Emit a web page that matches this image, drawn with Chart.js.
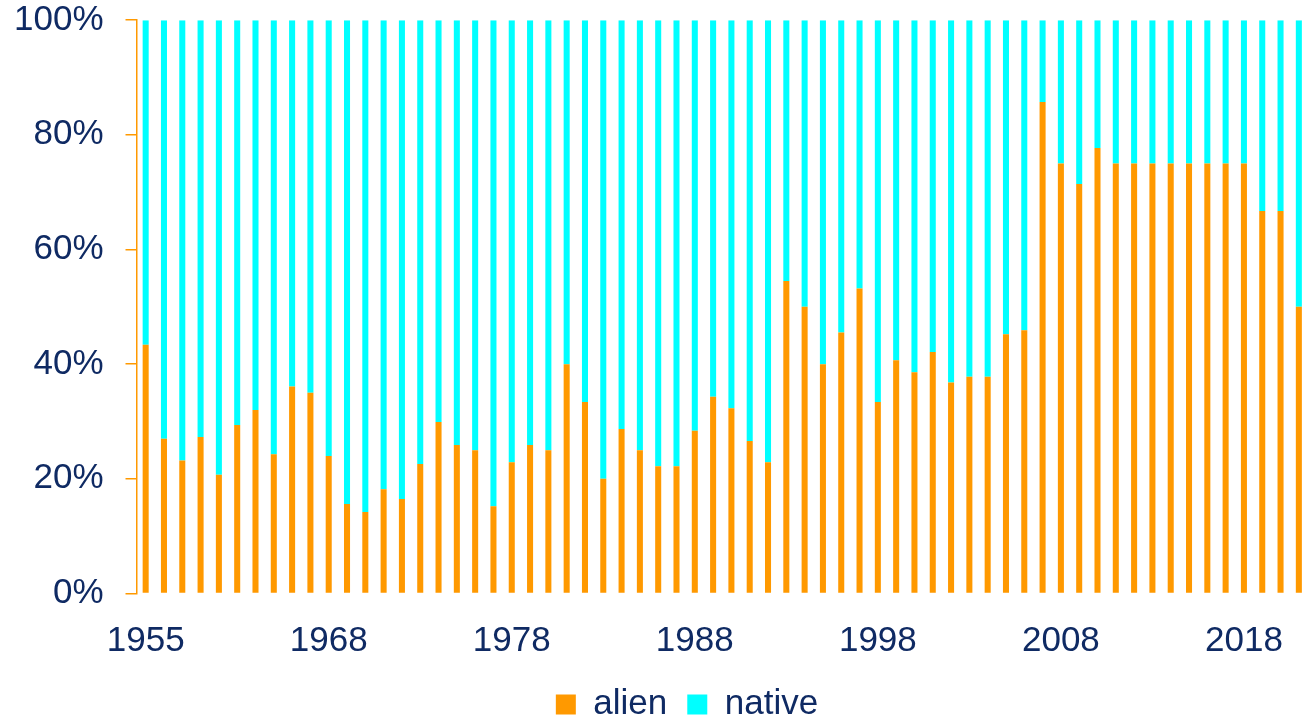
<!DOCTYPE html>
<html>
<head>
<meta charset="utf-8">
<title>alien vs native</title>
<script src="https://cdn.jsdelivr.net/npm/chart.js@4/dist/chart.umd.min.js"></script>
<style>
    html, body { margin: 0; padding: 0; background: #fff; }
    #wrap { width: 1311px; height: 721px; position: relative; }
</style>
</head>
<body>
<div id="wrap"><canvas id="shareChart"></canvas></div>
<script>
// years in the sheet (1956-1958 are missing)
var years = [1955, 1959, 1960, 1961, 1962, 1963, 1964, 1965, 1966, 1967,
    1968, 1969, 1970, 1971, 1972, 1973, 1974, 1975, 1976, 1977,
    1978, 1979, 1980, 1981, 1982, 1983, 1984, 1985, 1986, 1987,
    1988, 1989, 1990, 1991, 1992, 1993, 1994, 1995, 1996, 1997,
    1998, 1999, 2000, 2001, 2002, 2003, 2004, 2005, 2006, 2007,
    2008, 2009, 2010, 2011, 2012, 2013, 2014, 2015, 2016, 2017,
    2018, 2019, 2020, 2021];

var alienPct = [43.4, 27.0, 23.2, 27.3, 20.7, 29.4, 32.0, 24.3, 36.1, 35.0,
    24.0, 15.6, 14.2, 18.2, 16.5, 22.6, 29.9, 25.9, 25.0, 15.2,
    22.9, 25.9, 25.0, 40.0, 33.4, 20.0, 28.7, 25.0, 22.2, 22.2,
    28.4, 34.3, 32.3, 26.6, 22.9, 54.5, 50.0, 40.0, 45.5, 53.2,
    33.4, 40.7, 38.6, 42.1, 36.8, 37.8, 37.8, 45.2, 45.9, 85.7,
    75.0, 71.4, 77.7, 75.0, 75.0, 75.0, 75.0, 75.0, 75.0, 75.0,
    75.0, 66.7, 66.7, 50.0];

var nativePct = [56.6, 73.0, 76.8, 72.7, 79.3, 70.6, 68.0, 75.7, 63.9, 65.0,
    76.0, 84.4, 85.8, 81.8, 83.5, 77.4, 70.1, 74.1, 75.0, 84.8,
    77.1, 74.1, 75.0, 60.0, 66.6, 80.0, 71.3, 75.0, 77.8, 77.8,
    71.6, 65.7, 67.7, 73.4, 77.1, 45.5, 50.0, 60.0, 54.5, 46.8,
    66.6, 59.3, 61.4, 57.9, 63.2, 62.2, 62.2, 54.8, 54.1, 14.3,
    25.0, 28.6, 22.3, 25.0, 25.0, 25.0, 25.0, 25.0, 25.0, 25.0,
    25.0, 33.3, 33.3, 50.0];

var yTicks = [0, 20, 40, 60, 80, 100];

var ORANGE = "#FF9900",
    CYAN = "#00FFFF",
    NAVY = "#0F2A63",
    FONT = "'Liberation Sans', Arial, sans-serif";

// legend in the original sits a bit right of centre
var legendShift = {
    id: 'legendShift',
    afterLayout: function(chart) {
        chart.legend.left += 26;
        chart.legend.right += 26;
    }
};

var ctx = document.getElementById("shareChart").getContext("2d");
var shareChart = new Chart(ctx, {
    type: 'bar',
    data: {
        labels: years,
        datasets: [
            {
                label: "alien",
                data: alienPct,
                backgroundColor: ORANGE,
                barPercentage: 0.33,
                categoryPercentage: 1.0
            },
            {
                label: "native",
                data: nativePct,
                backgroundColor: CYAN,
                barPercentage: 0.33,
                categoryPercentage: 1.0
            }
        ]
    },
    plugins: [legendShift],
    options: {
        responsive: true,
        maintainAspectRatio: false,
        animation: false,
        layout: {
            padding: { left: 14, right: 3, top: 0, bottom: -11 }
        },
        plugins: {
            tooltip: { enabled: false },
            legend: {
                position: 'bottom',
                labels: {
                    color: NAVY,
                    font: { family: FONT, size: 35 },
                    boxWidth: 20,
                    boxHeight: 20,
                    padding: 20
                }
            }
        },
        scales: {
            x: {
                stacked: true,
                grid: { display: false, drawTicks: true, tickLength: 22.5 },
                border: { display: false },
                ticks: {
                    autoSkip: false,
                    maxRotation: 0,
                    padding: 0,
                    color: NAVY,
                    font: { family: FONT, size: 35, lineHeight: 1.457 },
                    callback: function(val, idx) {
                        return idx % 10 === 0 ? String(years[idx]) : '';
                    }
                }
            },
            y: {
                stacked: true,
                min: 0,
                max: 100,
                afterBuildTicks: function(axis) {
                    axis.ticks = yTicks.map(function(v) { return { value: v }; });
                },
                grid: {
                    drawOnChartArea: false,
                    drawTicks: true,
                    tickLength: 33,
                    // only the 10px next to the axis is visible
                    tickBorderDash: [0, 22, 11, 100],
                    color: ORANGE,
                    lineWidth: 1.5
                },
                border: { display: true, color: ORANGE, width: 1.5 },
                ticks: {
                    padding: 0,
                    color: NAVY,
                    font: { family: FONT, size: 35, lineHeight: 1.15 },
                    callback: function(v) { return v + '%'; }
                }
            }
        }
    }
});
</script>
</body>
</html>
